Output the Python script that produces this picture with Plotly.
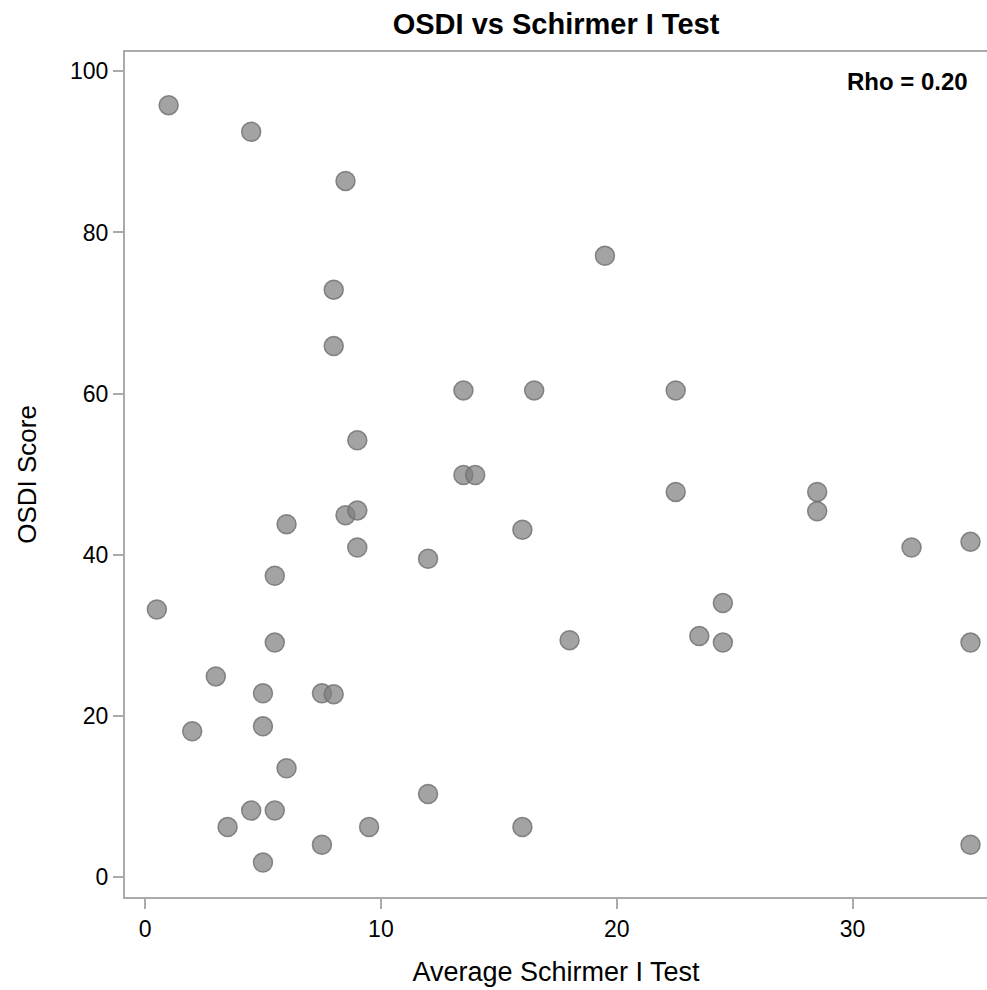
import plotly.graph_objects as go

schirmer = [1.0, 4.5, 8.5, 8.0, 8.0, 19.5, 13.5, 16.5, 22.5, 9.0,
            13.5, 14.0, 22.5, 28.5, 28.5, 8.5, 9.0, 6.0, 16.0, 9.0,
            12.0, 32.5, 35.0, 5.5, 0.5, 24.5, 23.5, 18.0, 5.5, 24.5,
            35.0, 3.0, 5.0, 7.5, 8.0, 2.0, 5.0, 6.0, 12.0, 4.5,
            5.5, 3.5, 9.5, 16.0, 7.5, 35.0, 5.0]
osdi = [95.8, 92.5, 86.4, 72.9, 65.9, 77.1, 60.4, 60.4, 60.4, 54.2,
        49.9, 49.9, 47.8, 47.8, 45.4, 44.9, 45.5, 43.8, 43.1, 40.9,
        39.5, 40.9, 41.6, 37.4, 33.2, 34.0, 29.9, 29.4, 29.1, 29.1,
        29.1, 24.9, 22.8, 22.8, 22.7, 18.1, 18.7, 13.5, 10.3, 8.25,
        8.25, 6.2, 6.2, 6.2, 4.0, 4.0, 1.8]

x_ticks = [0, 10, 20, 30]
y_ticks = [0, 20, 40, 60, 80, 100]

FONT = "Liberation Sans, Arial"

fig = go.Figure()
fig.add_trace(go.Scatter(
    x=schirmer, y=osdi, mode="markers",
    marker=dict(size=19, color="rgba(128,128,128,0.72)",
                line=dict(color="rgba(110,110,110,0.8)", width=1.5)),
    showlegend=False, hoverinfo="x+y"))

axis_common = dict(showgrid=False, zeroline=False, showline=True,
                   linecolor="#aaaaaa", linewidth=2, ticks="outside",
                   ticklen=10, tickwidth=1.5, tickcolor="#aaaaaa",
                   tickfont=dict(family=FONT, size=23, color="#000"))

fig.update_layout(
    width=987, height=990,
    margin=dict(l=125, r=0, t=52, b=93),
    paper_bgcolor="white", plot_bgcolor="white",
    title=dict(text="<b>OSDI vs Schirmer I Test</b>", x=(125 + 987) / 2 / 987,
               xanchor="center", y=1 - 24 / 990, yanchor="middle",
               font=dict(family=FONT, size=29, color="#000")),
    xaxis=dict(range=[-0.85, 35.7], tickvals=x_ticks, mirror=True,
               title=dict(text="Average Schirmer I Test", standoff=22,
                          font=dict(family=FONT, size=27, color="#000")),
               **axis_common),
    yaxis=dict(range=[-2.48, 102.4], tickvals=y_ticks,
               title=dict(text="OSDI Score", standoff=26,
                          font=dict(family=FONT, size=26, color="#000")),
               **axis_common),
    annotations=[dict(text="<b>Rho = 0.20</b>", xref="paper", yref="paper",
                      x=(970 - 125) / (987 - 125), y=(897 - 82) / (897 - 52),
                      xanchor="right", yanchor="middle",
                      showarrow=False,
                      font=dict(family=FONT, size=24, color="#000"))],
)

fig.write_html("out.html", config={"displayModeBar": False},
               post_script="document.body.style.margin='0';document.body.style.overflow='hidden';")
